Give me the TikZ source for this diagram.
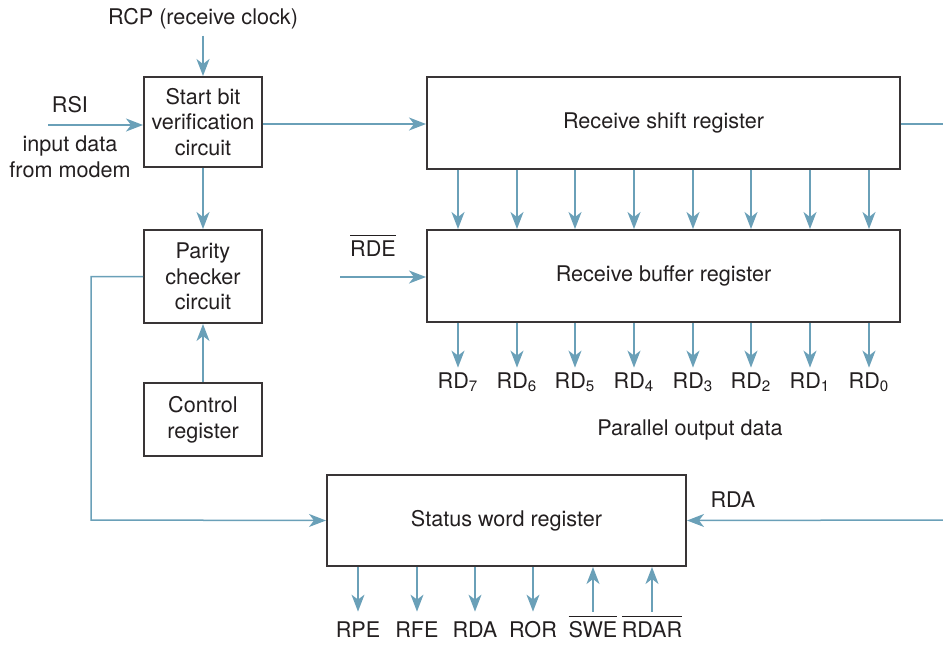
\documentclass[tikz,border=0pt]{standalone}
\usepackage{fontspec}
\setmainfont{TeX Gyre Heros}
\usetikzlibrary{positioning, arrows.meta}
\definecolor{sigblue}{RGB}{106,160,184}
\definecolor{ink}{RGB}{35,31,32}
\newcommand{\activelow}[1]{$\overline{\mbox{#1}\rule{0pt}{8.7pt}}$}

\begin{document}
\begin{tikzpicture}[
    x=0.5pt, y=-0.5pt,
    every node/.style={font=\fontsize{10.8}{12.8}\selectfont, text=ink},
    box/.style={draw=ink!90, line width=1pt, align=center, inner sep=2pt},
    small/.style={box, minimum width=59pt},
    reg/.style={box, minimum width=236.5pt, minimum height=46pt},
    sig/.style={sigblue, line width=0.75pt, -{Stealth[length=8.5pt, width=6.5pt, inset=2.5pt]}},
    wire/.style={sigblue, line width=0.75pt},
    rdlbl/.style={anchor=base, text height=7.7pt, inner xsep=0pt, inner ysep=2.3pt},
    pinlbl/.style={anchor=base, text height=7.7pt, inner xsep=0pt, inner ysep=4.8pt}
]
\useasboundingbox (0,0) rectangle (943,644);

% blocks
\node[small, minimum height=45pt] (start) at (203,122) {Start bit\\verification\\circuit};
\node[small, minimum height=46.5pt] (parity) at (203,276.5) {Parity\\checker\\circuit};
\node[small, minimum height=36.5pt] (control) at (203,419.5) {Control\\register};
\node[reg] (shift) at (663.5,122.5) {Receive shift register};
\node[reg] (buffer) at (663.5,276) {Receive buffer register};
\node[box, minimum width=179.5pt, minimum height=45.5pt] (status) at (506.5,520.5) {Status word register};

% inputs
\node[anchor=base] (rcp) at (203,24) {RCP (receive clock)};
\node (rsi) at (70,105) {RSI};
\node[align=center] (modem) at (70,157) {input data\\from modem};
\node[anchor=base] (rde) at (373,256) {\activelow{RDE}};
\node[anchor=base] (rdalbl) at (733,507) {RDA};
\node (parout) at (690,430) {Parallel output data};
\coordinate (rsiin) at (48,125);
\coordinate (rdein) at (340,277);
\coordinate (rdain) at (943,520);
\coordinate (exit) at (943,124);
\coordinate (bend) at (91,520);

\draw[sig] (rcp.south) -- (start.north);
\draw[sig] (rsiin) -- (rsiin -| start.west);
\draw[sig] (start.east |- 0,124) -- (shift.west |- 0,124);
\draw[wire] (shift.east |- exit) -- (exit);
\draw[sig] (start) -- (parity);
\draw[sig] (control) -- (parity);
\draw[sig] (rdein) -- (rdein -| buffer.west);
\draw[sig] (parity.west) -| (bend) -- (status.west);
\draw[sig] (rdain) -- (status.east);

% parallel data lines
\foreach \xx/\i in {458/7,517/6,575/5,634/4,693/3,751/2,810/1,869/0}{
    \node[rdlbl] (rd\i) at (\xx,388) {RD\textsubscript{\i}};
    \draw[sig] (shift.south -| rd\i) -- (buffer.north -| rd\i);
    \draw[sig] (buffer.south -| rd\i) -- (rd\i.north);
}

% status pins
\foreach \xx/\nm/\txt in {358/rpe/RPE, 417/rfe/RFE, 475/rda/RDA, 533/ror/ROR}{
    \node[pinlbl] (\nm) at (\xx,637) {\txt};
    \draw[sig] (status.south -| \nm) -- (\nm.north);
}
\foreach \xx/\nm/\txt in {593/swe/SWE, 652/rdar/RDAR}{
    \node[pinlbl] (\nm) at (\xx,637) {\activelow{\txt}};
    \draw[sig] (\nm.north) -- (status.south -| \nm);
}
\end{tikzpicture}
\end{document}
